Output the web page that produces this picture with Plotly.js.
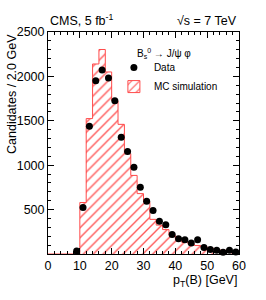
<!DOCTYPE html>
<html>
<head>
<meta charset="utf-8">
<script src="https://cdn.plot.ly/plotly-3.0.1.min.js"></script>
<style>html,body{margin:0;padding:0;background:#fff;}#chart{width:266px;height:300px;}</style>
</head>
<body>
<div id="chart"></div>
<script>
// Bin layout: 2 GeV bins from 0 to 60
var binWidth = 2;
var binCenters = [1,3,5,7,9,11,13,15,17,19,21,23,25,27,29,31,33,35,37,39,41,43,45,47,49,51,53,55,57,59];
// MC simulation histogram (candidates per bin)
var mcValues = [0,0,0,0,0,580,1525,2140,2303,2050,1725,1460,1130,885,680,585,390,325,275,210,162,132,110,95,82,65,52,42,33,26];
// Data points
var dataX = [9,11,13,15,17,19,21,23,25,27,29,31,33,35,37,39,41,43,45,47,49,51,53,55,57,59];
var dataY = [35,525,1438,1950,2072,1982,1725,1314,1155,978,751,593,491,368,330,220,172,161,124,161,72,52,41,20,41,22];
// Tick labels
var xTickVals = [0,10,20,30,40,50,60];
var xTickText = ['0','10','20','30','40','50','60'];
var yTickVals = [0,500,1000,1500,2000,2500];
var yTickText = ['','500','1000','1500','2000','2500'];

// step outline built from the bin arrays
var stepX = binCenters.map(function(c){ return c - binWidth/2; });
stepX.push(binCenters[binCenters.length-1] + binWidth/2);
var stepY = mcValues.slice();
stepY.push(mcValues[mcValues.length-1]);

var red = '#ff4a4a';
var hatch = {shape: '/', fgcolor: '#ff5a5a', bgcolor: 'white', size: 7, solidity: 0.2};
var font = 'Liberation Sans, Arial, sans-serif';

var traces = [
  {
    type: 'bar', x: binCenters, y: mcValues, width: binWidth,
    showlegend: false,
    marker: {color: 'white', line: {width: 0}, pattern: hatch},
    hoverinfo: 'skip'
  },
  {
    // legend-only entry for the MC histogram (outlined hatched swatch)
    type: 'bar', x: [null], y: [null],
    name: 'MC simulation', legendrank: 2,
    marker: {color: 'white', line: {width: 1, color: red}, pattern: hatch},
    hoverinfo: 'skip'
  },
  {
    type: 'scatter', mode: 'lines', x: stepX, y: stepY,
    line: {shape: 'hv', color: red, width: 1},
    showlegend: false, hoverinfo: 'skip'
  },
  {
    type: 'scatter', mode: 'markers', x: dataX, y: dataY,
    name: 'Data', legendrank: 1,
    marker: {color: 'black', size: 7, symbol: 'circle'},
    cliponaxis: false
  }
];

var axisCommon = {
  showgrid: false, zeroline: false, showline: true, linecolor: 'black', linewidth: 1,
  mirror: 'ticks', ticks: 'inside', ticklen: 6, tickwidth: 1, tickcolor: 'black',
  tickfont: {family: font, size: 12.5, color: 'black'}
};

var layout = {
  width: 266, height: 300,
  margin: {l: 48, r: 27, t: 32, b: 46},
  paper_bgcolor: 'white', plot_bgcolor: 'white',
  font: {family: font, color: 'black'},
  barmode: 'overlay', bargap: 0,
  showlegend: true,
  legend: {x: 0.345, y: 0.905, xanchor: 'left', yanchor: 'top',
    bgcolor: 'rgba(0,0,0,0)', font: {family: font, size: 10, color: 'black'},
    itemwidth: 30, tracegroupgap: 0, traceorder: 'normal'},
  xaxis: Object.assign({}, axisCommon, {
    range: [0, 60], tickmode: 'array', tickvals: xTickVals, ticktext: xTickText,
    minor: {dtick: 2, ticklen: 3, tickcolor: 'black', ticks: 'inside'}
  }),
  yaxis: Object.assign({}, axisCommon, {
    range: [0, 2500], tickmode: 'array', tickvals: yTickVals, ticktext: yTickText,
    minor: {dtick: 100, ticklen: 3, tickcolor: 'black', ticks: 'inside'}
  }),
  annotations: [
    {text: 'CMS, 5 fb<sup>-1</sup>', xref: 'paper', yref: 'paper', x: 0, y: 1, xanchor: 'left', yanchor: 'bottom',
     yshift: 2, showarrow: false, font: {family: font, size: 12.5, color: 'black'}},
    {text: '√s = 7 TeV', xref: 'paper', yref: 'paper', x: 1, y: 1, xanchor: 'right', yanchor: 'bottom',
     yshift: 2, showarrow: false, font: {family: font, size: 12.5, color: 'black'}},
    {text: 'p<sub>T</sub>(B) [GeV]', xref: 'paper', yref: 'paper', x: 1, y: 0, xanchor: 'right', yanchor: 'top',
     yshift: -17, showarrow: false, font: {family: font, size: 12.5, color: 'black'}},
    {text: 'Candidates / 2.0 GeV', xref: 'paper', yref: 'paper', x: 0, y: 1, xanchor: 'center', yanchor: 'top',
     xshift: -36, textangle: -90, showarrow: false, font: {family: font, size: 12.5, color: 'black'}},
    {text: 'B<sub>s</sub><sup>0</sup> → J/ψ φ', xref: 'paper', yref: 'paper', x: 0.455, y: 0.905, xanchor: 'left', yanchor: 'middle',
     showarrow: false, font: {family: font, size: 10, color: 'black'}}
  ]
};

Plotly.newPlot('chart', traces, layout, {displayModeBar: false, staticPlot: true});
</script>
</body>
</html>
